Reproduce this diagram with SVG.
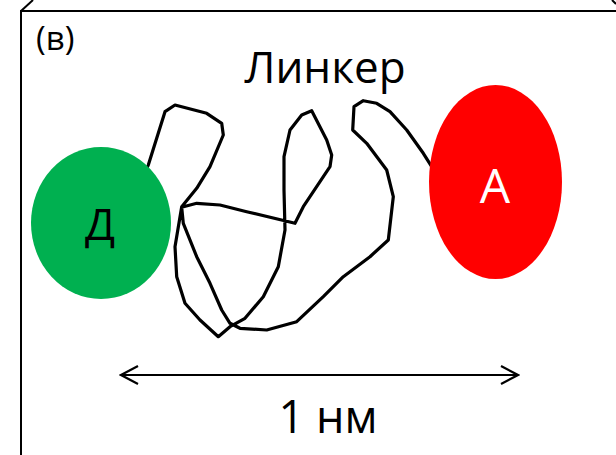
<svg xmlns="http://www.w3.org/2000/svg" width="616" height="455" viewBox="0 0 616 455">
  <style>
    .lbl { font-family: "Open Sans", "Noto Sans", "Liberation Sans", sans-serif; fill: #000; }
    .frame { fill: none; stroke: #000; stroke-width: 2; }
    .chain { fill: none; stroke: #000; stroke-width: 3.2; stroke-linejoin: round; stroke-linecap: round; }
    .dim { fill: none; stroke: #000; stroke-width: 2; }
  </style>
  <defs>
    <marker id="chevron" viewBox="0 0 20 20" refX="18" refY="10" markerWidth="20" markerHeight="20" markerUnits="userSpaceOnUse" orient="auto-start-reverse">
      <path d="M1 1 L18 10 L1 19" fill="none" stroke="#000" stroke-width="2.2"/>
    </marker>
  </defs>

  <rect width="616" height="455" fill="#fff"/>

  <!-- panel frame -->
  <g id="frame">
    <path class="frame" d="M21 455 V11 H616"/>
    <path class="frame" d="M21 11 L33 0" stroke-width="1.2"/>
    <path class="frame" d="M612 0 L616 4" stroke-width="1.2"/>
  </g>

  <text class="lbl" x="36" y="50" font-size="33">(в)</text>

  <!-- connectors: the flexible linker chain and the distance scale -->
  <g id="connectors">
    <polyline class="chain" points="140,185 148.3,165 165,111.7 175,105 206.7,113.3 221.7,123.3 223.3,135 210,166.7 196.7,188.3 181.7,206.7 175,246.7 176.7,276.7 185,303.3 200,320 218.3,336.7 230,326.7 245,318.3 263.3,296.7 278.3,266.7 285,230 284,190 284,156.7 290,130 301.7,115 311.7,110.7 326.7,140 331.7,155 330,166.7 303.3,206.7 295,223.3 246.7,211.7 220,205 196.7,203.3 181.7,207.3 183.3,223.3 196.7,256.7 210,283.3 221.7,310 230,323.3 240,328.3 266.7,330 296.7,321.7 323.3,296.7 343.3,276.7 370,256.7 388.3,240 393.3,196.7 386.7,170 366.7,143.3 352.7,130 354,106.7 363.3,100.7 376.7,103.3 390,111.7 406.7,130 423.3,153.3 431.7,166.7 440,182"/>
    <line class="dim" x1="121" y1="375" x2="518" y2="375" marker-start="url(#chevron)" marker-end="url(#chevron)"/>
  </g>

  <text class="lbl" x="325" y="83" font-size="44" text-anchor="middle">Линкер</text>

  <g id="donor">
    <ellipse cx="101" cy="223" rx="70" ry="76" fill="#00B050"/>
    <text class="lbl" x="100" y="240" font-size="44" text-anchor="middle">Д</text>
  </g>

  <g id="acceptor">
    <ellipse cx="495.5" cy="182" rx="66.5" ry="97" fill="#FF0000"/>
    <text class="lbl" x="495" y="203" font-size="48" text-anchor="middle" style="fill:#fff">A</text>
  </g>

  <text class="lbl" x="328" y="433" font-size="45" text-anchor="middle">1 нм</text>
</svg>
